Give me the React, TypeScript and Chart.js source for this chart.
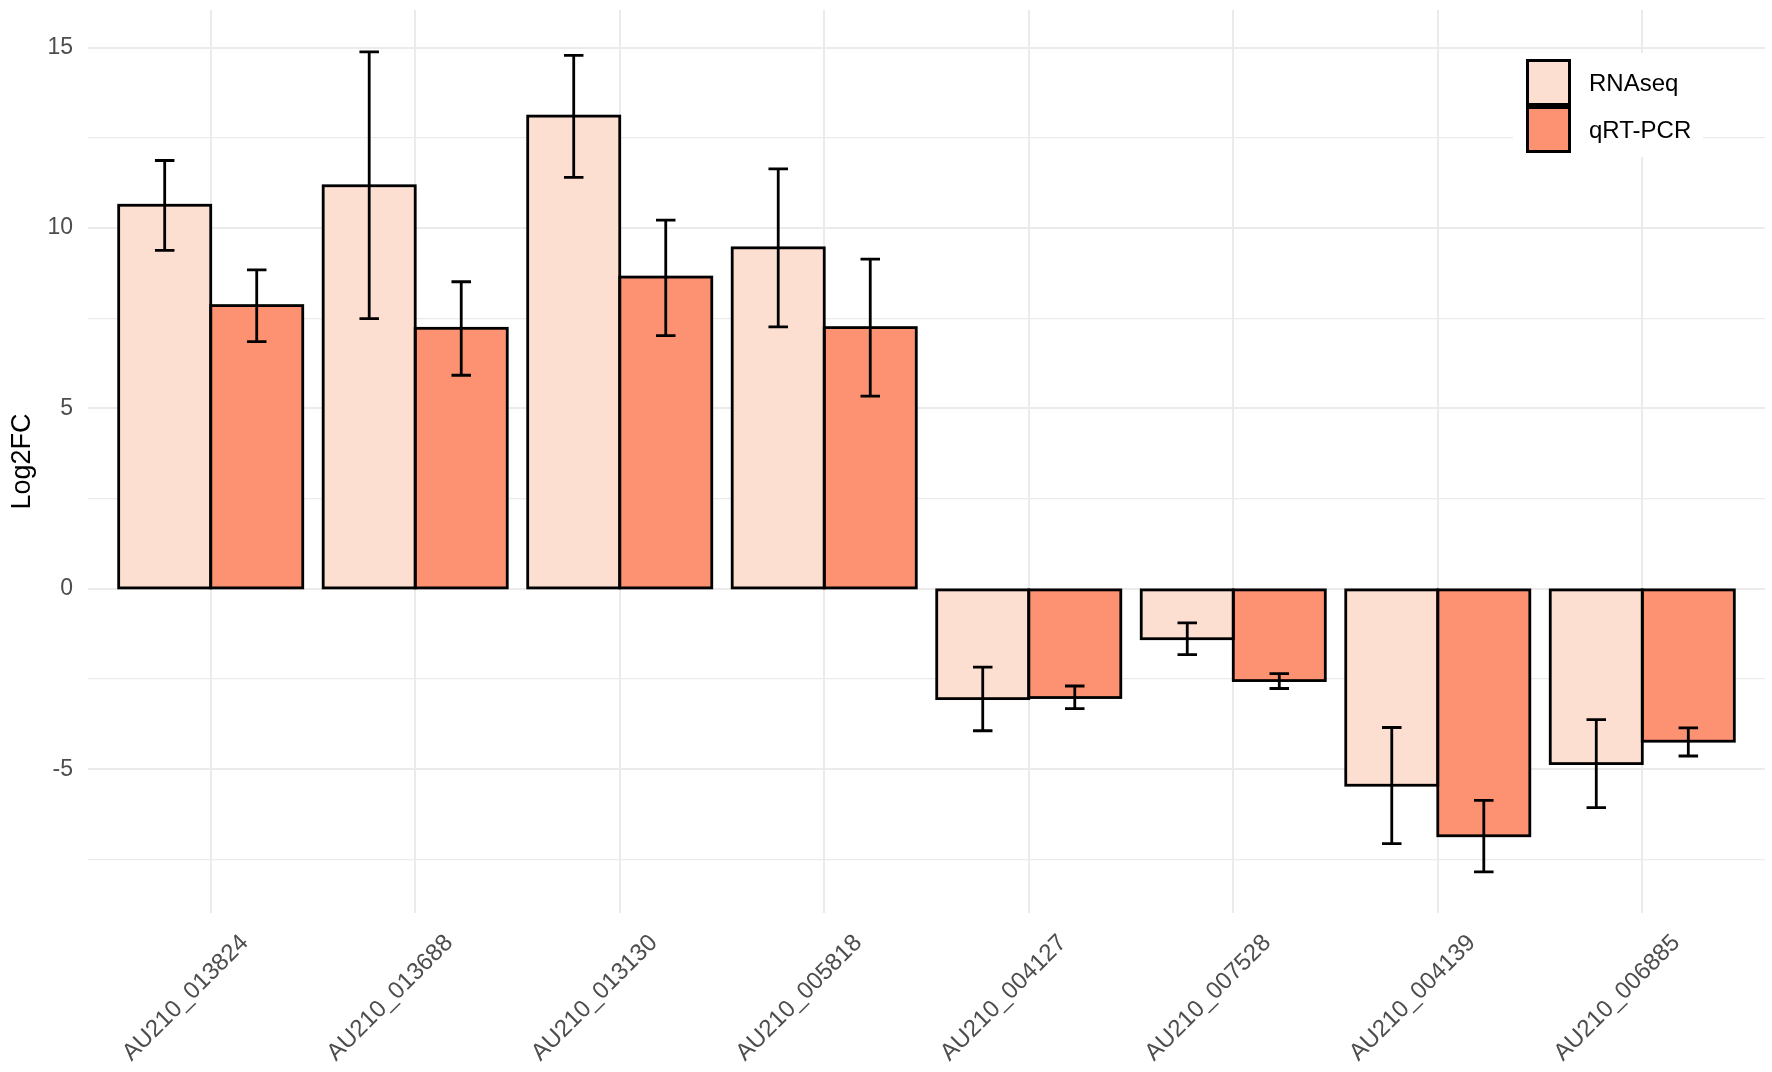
import { useEffect, useRef } from 'react';
import { Chart, registerables } from 'chart.js';

Chart.register(...registerables);

const genes = [
  'AU210_013824',
  'AU210_013688',
  'AU210_013130',
  'AU210_005818',
  'AU210_004127',
  'AU210_007528',
  'AU210_004139',
  'AU210_006885',
];

const rnaseq = [10.63, 11.17, 13.1, 9.45, -3.04, -1.38, -5.44, -4.84];
const rnaseqLow = [9.38, 7.49, 11.4, 7.26, -3.93, -1.82, -7.06, -6.06];
const rnaseqHigh = [11.87, 14.88, 14.78, 11.64, -2.17, -0.94, -3.84, -3.62];

const qpcr = [7.85, 7.22, 8.64, 7.24, -3.01, -2.54, -6.84, -4.22];
const qpcrLow = [6.85, 5.92, 7.02, 5.34, -3.32, -2.76, -7.84, -4.63];
const qpcrHigh = [8.84, 8.51, 10.22, 9.14, -2.69, -2.35, -5.86, -3.85];

const yMin = -8.98;
const yMax = 16.04;

const FONT = '"Liberation Sans", Arial, Helvetica, sans-serif';

// outlines centred on the bar edges (like ggplot), then the error bars on top
const outlineAndErrorPlugin = {
  id: 'outlineAndErrors',
  afterDatasetsDraw(chart: any) {
    const { ctx } = chart;
    const y = chart.scales.y;
    const ranges = [
      [rnaseqLow, rnaseqHigh],
      [qpcrLow, qpcrHigh],
    ];
    ctx.save();
    ctx.strokeStyle = '#000000';
    ctx.lineJoin = 'miter';
    ctx.lineWidth = 2.8;
    [0, 1].forEach((di) => {
      chart.getDatasetMeta(di).data.forEach((bar: any) => {
        const top = Math.min(bar.y, bar.base);
        const h = Math.abs(bar.base - bar.y);
        ctx.strokeRect(bar.x - bar.width / 2, top, bar.width, h);
      });
    });

    ctx.lineWidth = 2.8;
    ctx.lineCap = 'butt';
    ranges.forEach(([lo, hi], di) => {
      chart.getDatasetMeta(di).data.forEach((bar: any, i: number) => {
        const x = bar.x;
        const half = bar.width * 0.106;
        const y1 = y.getPixelForValue(lo[i]);
        const y2 = y.getPixelForValue(hi[i]);
        ctx.beginPath();
        ctx.moveTo(x, y1);
        ctx.lineTo(x, y2);
        ctx.moveTo(x - half, y1);
        ctx.lineTo(x + half, y1);
        ctx.moveTo(x - half, y2);
        ctx.lineTo(x + half, y2);
        ctx.stroke();
      });
    });
    ctx.restore();
  },
};

const legendPlugin = {
  id: 'insideLegend',
  afterDraw(chart: any) {
    const { ctx, chartArea } = chart;
    const right = chartArea.right;
    const top = chartArea.top;
    ctx.save();
    ctx.fillStyle = '#ffffff';
    ctx.fillRect(right - 252, top + 43, 190, 104);
    const keyX = right - 239;
    const keyW = 45;
    const keyH = 47;
    const rowsTop = top + 49;
    chart.data.datasets.forEach((ds: any, i: number) => {
      const ky = rowsTop + i * keyH;
      ctx.fillStyle = ds.backgroundColor;
      ctx.fillRect(keyX, ky, keyW, keyH);
      ctx.strokeStyle = '#000000';
      ctx.lineWidth = 3;
      ctx.strokeRect(keyX + 1.5, ky + 1.5, keyW - 3, keyH - 3);
      ctx.fillStyle = '#000000';
      ctx.font = `24px ${FONT}`;
      ctx.textAlign = 'left';
      ctx.textBaseline = 'middle';
      ctx.fillText(ds.label, keyX + keyW + 18, ky + keyH / 2 + 2);
    });
    ctx.restore();
  },
};

export default function App() {
  const canvasRef = useRef<HTMLCanvasElement>(null);
  const chartRef = useRef<Chart | null>(null);

  useEffect(() => {
    if (!canvasRef.current) return;
    if (chartRef.current) chartRef.current.destroy();

    const ctx = canvasRef.current.getContext('2d');
    if (!ctx) return;

    chartRef.current = new Chart(ctx, {
      type: 'bar',
      data: {
        datasets: [
          {
            label: 'RNAseq',
            data: rnaseq.map((v, i) => ({ x: i, y: v })),
            backgroundColor: '#FDDFD2',
            borderWidth: 0,
          },
          {
            label: 'qRT-PCR',
            data: qpcr.map((v, i) => ({ x: i, y: v })),
            backgroundColor: '#FC9272',
            borderWidth: 0,
          },
        ],
      },
      options: {
        animation: false,
        responsive: true,
        maintainAspectRatio: false,
        layout: { padding: { top: 10, right: 7, left: 0, bottom: 0 } },
        datasets: {
          bar: { categoryPercentage: 0.9, barPercentage: 1, inflateAmount: 0 },
        },
        plugins: {
          legend: { display: false },
          tooltip: { enabled: false },
        },
        scales: {
          x: {
            type: 'linear',
            min: -0.6,
            max: 7.6,
            offset: false,
            border: { display: false },
            grid: { color: '#EBEBEB', lineWidth: 2, drawTicks: false, offset: false },
            ticks: {
              stepSize: 1,
              includeBounds: false,
              autoSkip: false,
              minRotation: 45,
              maxRotation: 45,
              labelOffset: 34,
              padding: 16,
              color: '#4D4D4D',
              font: { family: FONT, size: 24 },
              callback: (value: any) => genes[Math.round(Number(value))] ?? '',
            },
            afterFit: (scale: any) => {
              scale.height = 159;
              scale.paddingLeft = 0;
              scale.paddingRight = 0;
            },
          },
          y: {
            min: yMin,
            max: yMax,
            border: { display: false },
            grid: {
              color: '#EBEBEB',
              lineWidth: (c: any) => (c.tick && Math.abs(c.tick.value % 5) < 1e-6 ? 2 : 1.3),
              drawTicks: false,
            },
            ticks: {
              stepSize: 2.5,
              includeBounds: false,
              padding: 15,
              color: '#4D4D4D',
              font: { family: FONT, size: 23 },
              callback: (value: any) => (Math.abs(Number(value) % 5) < 1e-6 ? String(value) : ''),
            },
            title: {
              display: true,
              text: 'Log2FC',
              color: '#000000',
              font: { family: FONT, size: 27 },
              padding: { top: 6, bottom: 4 },
            },
            afterFit: (scale: any) => {
              scale.width = 88;
              scale.paddingTop = 0;
              scale.paddingBottom = 0;
            },
          },
        },
      },
      plugins: [outlineAndErrorPlugin, legendPlugin],
    } as any);

    return () => {
      if (chartRef.current) {
        chartRef.current.destroy();
        chartRef.current = null;
      }
    };
  }, []);

  return (
    <div
      style={{
        position: 'fixed',
        left: 0,
        top: 0,
        width: '1772px',
        height: '1072px',
        background: '#ffffff',
      }}
    >
      <canvas ref={canvasRef}></canvas>
    </div>
  );
}
